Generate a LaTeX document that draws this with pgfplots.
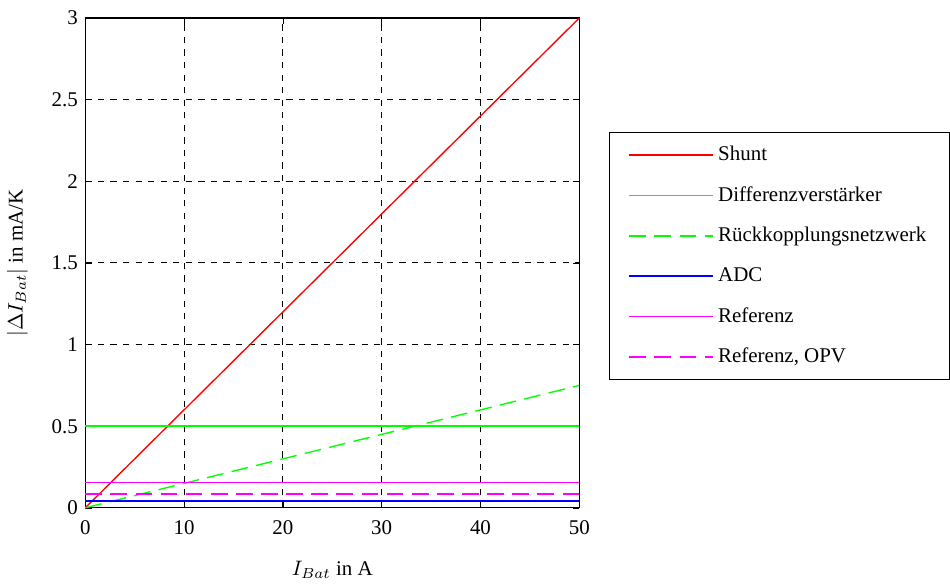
\documentclass[border=0pt]{standalone}
\usepackage{pgfplots}
\pgfplotsset{compat=1.18}
\usepackage{fontspec}
\setmainfont{Liberation Serif}
\definecolor{pgreen}{rgb}{0,1,0}
\definecolor{pblue}{rgb}{0,0,1}
\definecolor{pred}{rgb}{1,0,0}
\definecolor{pmag}{rgb}{1,0,1}
\begin{document}
\begin{tikzpicture}
\begin{axis}[
  scale only axis,
  width=236pt, height=234pt,
  xmin=0, xmax=50, ymin=0, ymax=3,
  xtick={0,10,20,30,40,50},
  ytick={0,0.5,1,1.5,2,2.5,3},
  yticklabels={0,0.5,1,1.5,2,2.5,3},
  xmajorgrids, ymajorgrids,
  grid style={black, dashed, line width=0.5pt},
  axis line style={black, line width=0.6pt},
  tick style={black},
  tick align=inside,
  major tick length=3pt,
  /pgf/number format/assume math mode=true,
  ticklabel style={font=\normalsize},
  xticklabel style={yshift=-2.5pt},
  xlabel={$I_{Bat}$ in A},
  ylabel={$|\Delta I_{Bat}|$ in mA/K},
  xlabel style={yshift=-6pt},
  ylabel style={yshift=4.5pt},
  clip=false,
  after end axis/.code={\path (rel axis cs:0,1) ++(0,8.6pt);},
  legend style={at={(1.06,0.514)}, anchor=west, draw=black, line width=0.6pt,
    row sep=6.9pt, inner xsep=9pt, inner ysep=4.5pt, font=\normalsize, cells={anchor=west}},
  legend image code/.code={\draw[#1] (0pt,0pt) -- (40pt,0pt);},
]
\addplot[pred, line width=0.65pt] coordinates {(0,0) (50,3)};
\addlegendentry{Shunt}
\addplot[pgreen, line width=0.7pt] coordinates {(0,0.5) (50,0.5)};
\addlegendentry{Differenzverstärker}
\addplot[pgreen, dash pattern=on 8pt off 4pt, line width=0.65pt] coordinates {(0,0) (50,0.75)};
\addlegendentry{Rückkopplungsnetzwerk}
\addplot[pblue, line width=0.9pt] coordinates {(0,0.04) (50,0.04)};
\addlegendentry{ADC}
\addplot[pmag, line width=0.65pt] coordinates {(0,0.154) (50,0.154)};
\addlegendentry{Referenz}
\addplot[pmag, dash pattern=on 8pt off 4pt, line width=0.65pt] coordinates {(0,0.084) (50,0.084)};
\addlegendentry{Referenz, OPV}
\end{axis}
\end{tikzpicture}
\end{document}
